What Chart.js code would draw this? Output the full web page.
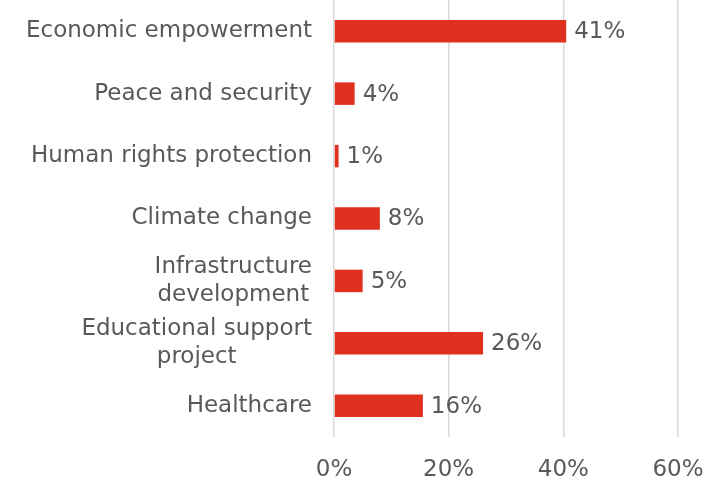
<!DOCTYPE html>
<html>
<head>
<meta charset="utf-8">
<script src="https://cdn.jsdelivr.net/npm/chart.js@4.4.0/dist/chart.umd.min.js"></script>
<style>
  body { margin: 0; background: #fff; }
  #wrap { width: 720px; height: 488px; }
</style>
</head>
<body>
<div id="wrap"><canvas id="my-chart"></canvas></div>
<script>
// categories, top to bottom
const categorie = [
  "Economic empowerment",
  "Peace and security",
  "Human rights protection",
  "Climate change",
  ["Infrastructure", "development"],
  ["Educational support", "project"],
  "Healthcare"
];
// share of projects (%)
const valori = [40.5, 3.6, 0.8, 8, 5, 26, 15.5];
const tickMax = 60;
const tickStep = 20;

const fontFam = "'DejaVu Sans', sans-serif";
const grigio = "#595959";
const dimFont = 23;
const interlinea = 28;

// etichette a destra delle barre
const etichette = {
  id: "etichette",
  afterDatasetsDraw(chart) {
    const ctx = chart.ctx;
    const meta = chart.getDatasetMeta(0);
    ctx.save();
    ctx.font = dimFont + "px " + fontFam;
    ctx.fillStyle = grigio;
    ctx.textBaseline = "middle";
    ctx.textAlign = "left";
    meta.data.forEach((bar, i) => {
      ctx.fillText(Math.round(valori[i]) + "%", bar.x + 8, bar.y + 1);
    });
    ctx.restore();
  }
};

// categorie a capo centrate nel blocco, blocco allineato a destra
const categorieY = {
  id: "categorieY",
  afterDraw(chart) {
    const ctx = chart.ctx;
    const yScale = chart.scales.y;
    const destra = chart.chartArea.left - 22;
    ctx.save();
    ctx.font = dimFont + "px " + fontFam;
    ctx.fillStyle = grigio;
    ctx.textBaseline = "middle";
    ctx.textAlign = "center";
    categorie.forEach((c, i) => {
      const righe = Array.isArray(c) ? c : [c];
      const larg = Math.max(...righe.map((r) => ctx.measureText(r).width));
      const cx = destra - larg / 2;
      const y0 = yScale.getPixelForTick(i) - ((righe.length - 1) * interlinea) / 2;
      righe.forEach((r, k) => {
        ctx.fillText(r, cx, y0 + k * interlinea);
      });
    });
    ctx.restore();
  }
};

const myChart = document.getElementById("my-chart");

new Chart(myChart, {
  type: "bar",
  data: {
    labels: categorie,
    datasets: [
      {
        label: "Share",
        data: valori,
        backgroundColor: "#E03020",
        borderWidth: 0,
        barPercentage: 0.36,
        categoryPercentage: 1
      }
    ]
  },
  options: {
    indexAxis: "y",
    responsive: true,
    maintainAspectRatio: false,
    animation: false,
    layout: { padding: { left: 0, right: 42, top: 0, bottom: 0 } },
    plugins: {
      legend: { display: false },
      tooltip: { enabled: false }
    },
    scales: {
      x: {
        min: 0,
        max: tickMax,
        ticks: {
          stepSize: tickStep,
          color: grigio,
          font: { family: fontFam, size: dimFont },
          padding: 19,
          maxRotation: 0,
          callback: (v) => v + "%"
        },
        grid: { color: "#D9D9D9", lineWidth: 1.5, drawTicks: false },
        border: { display: false },
        afterFit(scale) {
          scale.height = 51;
          scale.paddingLeft = 0;
          scale.paddingRight = 0;
        }
      },
      y: {
        ticks: { display: false },
        grid: { display: false, drawTicks: false },
        border: { display: false },
        afterFit(scale) {
          scale.width = 334;
          scale.paddingTop = 0;
          scale.paddingBottom = 0;
        }
      }
    }
  },
  plugins: [etichette, categorieY]
});
</script>
</body>
</html>
